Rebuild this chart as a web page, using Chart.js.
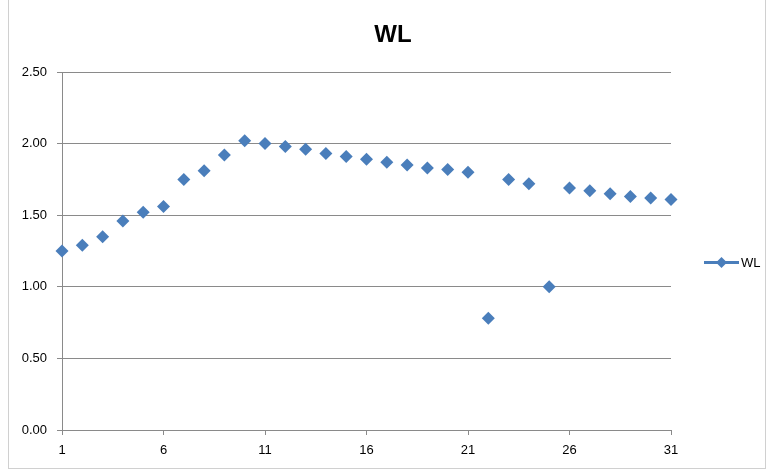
<!DOCTYPE html>
<html>
<head>
<meta charset="utf-8">
<script src="https://cdn.jsdelivr.net/npm/chart.js@4"></script>
<style>
  body { margin: 0; background: #fff; }
  #wrap { position: relative; width: 773px; height: 470px; }
  #frame { position: absolute; left: 8px; top: -1px; width: 756px; height: 468px; border: 1px solid #d0d0d0; pointer-events: none; }
</style>
</head>
<body>
<div id="wrap">
  <canvas id="chart" width="773" height="470"></canvas>
  <div id="frame"></div>
</div>
<script>
var days = [1, 2, 3, 4, 5, 6, 7, 8, 9, 10, 11, 12, 13, 14, 15, 16, 17, 18, 19, 20, 21, 22, 23, 24, 25, 26, 27, 28, 29, 30, 31];
var wl = [1.25, 1.29, 1.35, 1.46, 1.52, 1.56, 1.75, 1.81, 1.92, 2.02, 2.00, 1.98, 1.96, 1.93, 1.91, 1.89, 1.87, 1.85, 1.83, 1.82, 1.80, 0.78, 1.75, 1.72, 1.00, 1.69, 1.67, 1.65, 1.63, 1.62, 1.61];
var seriesName = 'WL';
var chartTitle = 'WL';

var blue = '#4a7ebb';
var gridGray = '#8a8a8a';

// title + legend drawn by hand, Excel style
var decor = {
  id: 'decor',
  afterDraw: function(chart) {
    var c = chart.ctx;
    c.save();
    c.fillStyle = '#000';
    c.font = 'bold 24px "Liberation Sans", Arial, sans-serif';
    c.textAlign = 'center';
    c.textBaseline = 'middle';
    c.fillText(chartTitle, 393, 35);

    // legend entry
    c.strokeStyle = blue;
    c.lineWidth = 3;
    c.beginPath();
    c.moveTo(704, 262.5);
    c.lineTo(739, 262.5);
    c.stroke();
    c.fillStyle = blue;
    c.beginPath();
    c.moveTo(721.5, 257);
    c.lineTo(727, 262.5);
    c.lineTo(721.5, 268);
    c.lineTo(716, 262.5);
    c.closePath();
    c.fill();
    c.fillStyle = '#000';
    c.font = '13px "Liberation Sans", Arial, sans-serif';
    c.textAlign = 'left';
    c.fillText(seriesName, 741, 263);
    c.restore();
  }
};

var points = days.map(function(d, i) { return { x: d, y: wl[i] }; });

new Chart(document.getElementById('chart').getContext('2d'), {
  type: 'scatter',
  data: {
    datasets: [{
      label: seriesName,
      data: points,
      showLine: false,
      clip: false,
      pointStyle: 'rectRot',
      pointRadius: 6.5,
      pointHoverRadius: 6.5,
      backgroundColor: blue,
      borderColor: blue,
      borderWidth: 0
    }]
  },
  options: {
    responsive: false,
    animation: false,
    layout: { padding: { left: 0, right: 102, top: 72, bottom: 0 } },
    plugins: {
      legend: { display: false },
      title: { display: false },
      tooltip: { enabled: false }
    },
    scales: {
      x: {
        type: 'linear',
        min: 1,
        max: 31,
        afterFit: function(s) { s.height = 40; },
        ticks: {
          stepSize: 5,
          color: '#000',
          padding: 8,
          font: { family: '"Liberation Sans", Arial, sans-serif', size: 13 }
        },
        grid: { drawOnChartArea: false, drawTicks: true, tickLength: 5, color: gridGray },
        border: { color: gridGray, width: 1 }
      },
      y: {
        min: 0,
        max: 2.5,
        afterFit: function(s) { s.width = 62; },
        ticks: {
          stepSize: 0.5,
          color: '#000',
          padding: 10,
          callback: function(v) { return v.toFixed(2); },
          font: { family: '"Liberation Sans", Arial, sans-serif', size: 13 }
        },
        grid: { color: gridGray, tickLength: 5 },
        border: { color: gridGray, width: 1 }
      }
    }
  },
  plugins: [decor]
});
</script>
</body>
</html>
